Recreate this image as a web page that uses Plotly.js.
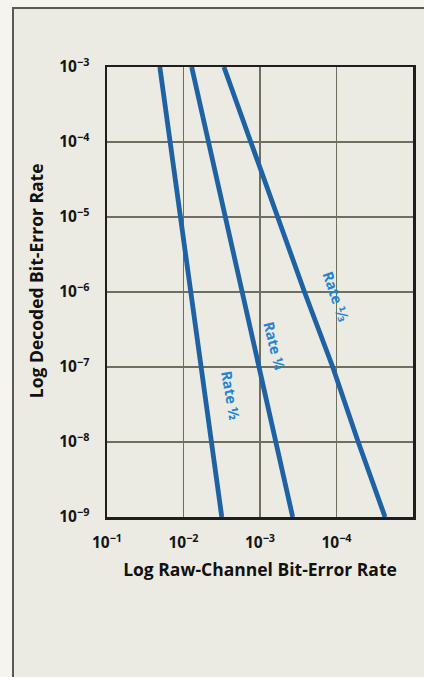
<!DOCTYPE html>
<html>
<head>
<meta charset="utf-8">
<script src="https://cdn.plot.ly/plotly-3.0.1.min.js"></script>
<style>
  html, body { margin:0; padding:0; background:#f5f4ee; }
  #frame { position:absolute; left:12px; top:7px; width:412px; height:670px;
           border-left:2px solid #5a5a52; border-top:2px solid #5a5a52; background:#ecebe3; }
  #chart { position:absolute; left:0; top:0; width:424px; height:677px; }
</style>
</head>
<body>
<div id="frame"></div>
<div id="chart"></div>
<script>
// Decoded bit-error rate (y) levels
const decodedBER = [1e-3, 1e-4, 1e-5, 1e-6, 1e-7, 1e-8, 1e-9];
// Raw-channel bit-error rate (x) read for each curve at the decoded levels
const rawRateHalf  = [0.0204, 0.0150, 0.0110, 0.00804, 0.00589, 0.00432, 0.00316];
const rawRateMid   = [0.00782, 0.00471, 0.00284, 0.00171, 0.00103, 0.000621, 0.000374];
const rawRateRight = [0.00296, 0.00132, 0.000590, 0.000262, 0.000112, 0.0000520, 0.0000232];
const seriesNames = ['Rate ½', 'Rate ¼', 'Rate ⅓'];
const xTickVals = [1e-1, 1e-2, 1e-3, 1e-4];
const xTickText = ['10<sup>−1</sup>', '10<sup>−2</sup>', '10<sup>−3</sup>', '10<sup>−4</sup>'];
const yTickVals = [1e-3, 1e-4, 1e-5, 1e-6, 1e-7, 1e-8, 1e-9];
const yTickText = ['10<sup>−3</sup>', '10<sup>−4</sup>', '10<sup>−5</sup>', '10<sup>−6</sup>', '10<sup>−7</sup>', '10<sup>−8</sup>', '10<sup>−9</sup>'];
const xTitle = 'Log Raw-Channel Bit-Error Rate';
const yTitle = 'Log Decoded Bit-Error Rate';

const lineColor = '#1f62a4';
const allX = [rawRateHalf, rawRateMid, rawRateRight];
const traces = allX.map((xs, i) => ({
  x: xs, y: decodedBER, type: 'scatter', mode: 'lines', name: seriesNames[i],
  line: { color: lineColor, width: 4.8 }, showlegend: false, hoverinfo: 'skip'
}));

const fam = 'Open Sans, DejaVu Sans, sans-serif';
const labelFont = { family: fam, size: 14.5, color: '#2585d2', weight: 'bold' };
const titleFont = { family: fam, size: 17.5, color: '#111', weight: 'bold' };
const labelPos = [
  { x: 0.403, y: 0.269, a: 80 },
  { x: 0.549, y: 0.380, a: 76 },
  { x: 0.748, y: 0.490, a: 71 }
];
const annotations = seriesNames.map((n, i) => ({
  xref: 'paper', yref: 'paper', x: labelPos[i].x, y: labelPos[i].y,
  xanchor: 'center', yanchor: 'middle',
  text: n, showarrow: false, textangle: labelPos[i].a, font: labelFont
}));
annotations.push({
  xref: 'paper', yref: 'paper', x: -0.232, y: 0.524, xanchor: 'center', yanchor: 'middle',
  text: yTitle, showarrow: false, textangle: -90, font: titleFont
});

const axisFont = { family: fam, size: 15.5, color: '#151515', weight: 'bold' };
const layout = {
  width: 424, height: 677,
  margin: { l: 107, r: 11, t: 67, b: 160 },
  paper_bgcolor: 'rgba(0,0,0,0)',
  plot_bgcolor: '#ebeae3',
  xaxis: {
    type: 'log', range: [-1, -5],
    tickvals: xTickVals, ticktext: xTickText, tickfont: axisFont,
    showgrid: true, gridcolor: '#6f6f60', gridwidth: 1.5,
    showline: true, mirror: true, linecolor: '#1e1e1e', linewidth: 2.5,
    ticks: '', ticklabelstandoff: 10, zeroline: false,
    title: { text: xTitle, standoff: 12, font: titleFont }
  },
  yaxis: {
    type: 'log', range: [-9, -3],
    tickvals: yTickVals, ticktext: yTickText, tickfont: axisFont,
    showgrid: true, gridcolor: '#6f6f60', gridwidth: 1.5,
    showline: true, mirror: true, linecolor: '#1e1e1e', linewidth: 2.5,
    ticks: '', ticklabelstandoff: 12, zeroline: false
  },
  annotations: annotations
};

Plotly.newPlot('chart', traces, layout, { displayModeBar: false, staticPlot: true });
</script>
</body>
</html>
